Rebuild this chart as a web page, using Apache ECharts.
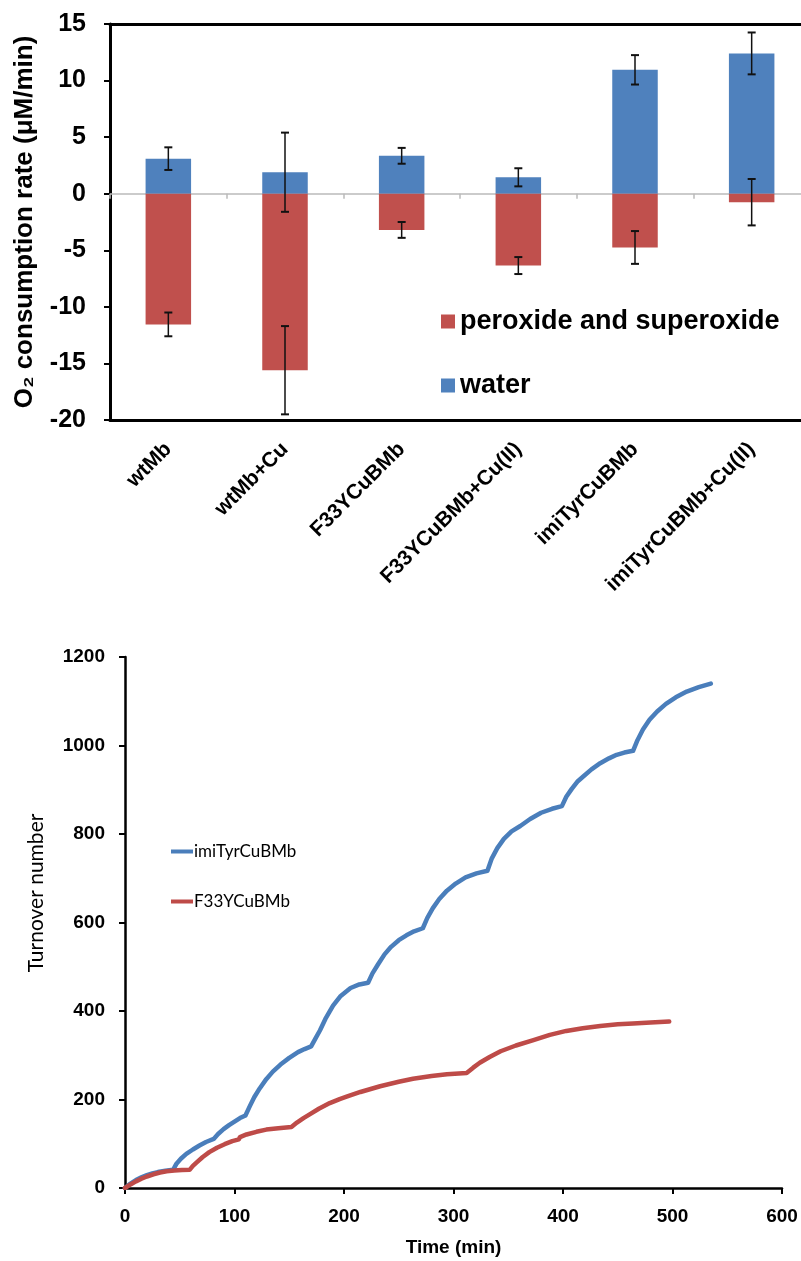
<!DOCTYPE html>
<html>
<head>
<meta charset="utf-8">
<script src="https://cdn.jsdelivr.net/npm/echarts@6/dist/echarts.min.js"></script>
<style>
html,body{margin:0;padding:0;background:#fff;}
#chart{width:801px;height:1261px;}
</style>
</head>
<body>
<div id="chart"></div>
<script>
// ---- Data: top chart ----
const categories = ['wtMb', 'wtMb+Cu', 'F33YCuBMb', 'F33YCuBMb+Cu(II)', 'imiTyrCuBMb', 'imiTyrCuBMb+Cu(II)'];
const waterRate = [3.1, 1.9, 3.35, 1.45, 10.95, 12.4];
const waterErr = [1.0, 3.5, 0.7, 0.8, 1.3, 1.85];
const peroxideRate = [-11.55, -15.6, -3.2, -6.35, -4.75, -0.75];
const peroxideErr = [1.05, 3.9, 0.7, 0.75, 1.45, 2.05];
const topYTicks = [-20, -15, -10, -5, 0, 5, 10, 15];

// ---- Data: bottom chart (time in min, turnover number) ----
const imiTyrCuBMb = [
  [0,0],[5,10],[10,18],[15,24],[20,29],[25,33],[30,36],[37,39],[44,41],
  [47,55],[51,66],[56,77],[62,87],[68,96],[74,104],[81,111],
  [85,122],[90,133],[95,142],[100,150],[105,158],[110,164],
  [114,185],[118,205],[123,225],[129,246],[135,263],[142,279],[150,294],[158,307],[164,314],[170,320],
  [174,338],[178,356],[183,382],[190,412],[197,434],[206,452],[214,460],[222,464],
  [226,485],[231,505],[237,528],[243,545],[250,560],[257,571],[264,580],[272,587],
  [276,610],[281,632],[287,653],[294,672],[302,688],[311,702],[321,711],[331,717],
  [335,745],[340,768],[346,789],[353,806],[361,818],[370,834],[380,848],[390,857],[399,863],
  [403,884],[408,902],[413,918],[419,931],[426,946],[434,960],[442,971],[449,979],[456,984],[464,988],
  [468,1012],[473,1036],[479,1058],[486,1077],[494,1094],[503,1109],[513,1122],[524,1132],[535,1140]
];
const F33YCuBMb = [
  [0,0],[5,8],[10,15],[15,21],[20,26],[26,31],[32,35],[38,38],[45,39.5],[52,40.5],[59,41],
  [62,50],[66,59],[71,70],[77,81],[84,91],[91,99],[98,106],[104,110],
  [105,115],[111,121],[120,127],[129,132],[140,135],[152,138],
  [157,148],[163,158],[169,167],[177,179],[187,192],[196,201],[203,207],[215,217],[233,230],[250,240],[263,247],[280,253],[294,257],[312,260],
  [318,272],[324,283],[333,296],[343,309],[357,322],[373,334],[388,346],[403,355],[418,361],[434,366],[450,370],[464,372],[480,374],[497,376]
];

const BOLD = {fontFamily: 'Liberation Sans, Arial, sans-serif', fontWeight: 'bold', color: '#000'};
const BLUE = '#4F81BD', RED = '#C0504D';

const chart = echarts.init(document.getElementById('chart'), null, {renderer: 'canvas'});

function errRender(params, api) {
  const x = api.value(0), v = api.value(1), e = api.value(2);
  const hi = api.coord([x, v + e]);
  const lo = api.coord([x, v - e]);
  const cap = 4;
  return {type: 'group', children: [
    {type: 'line', shape: {x1: hi[0], y1: hi[1], x2: lo[0], y2: lo[1]}, style: {stroke: '#111', lineWidth: 1.5}},
    {type: 'line', shape: {x1: hi[0]-cap, y1: hi[1], x2: hi[0]+cap, y2: hi[1]}, style: {stroke:'#111', lineWidth: 2}},
    {type: 'line', shape: {x1: lo[0]-cap, y1: lo[1], x2: lo[0]+cap, y2: lo[1]}, style: {stroke:'#111', lineWidth: 2}}
  ]};
}

const option = {
  animation: false,
  backgroundColor: '#fff',
  grid: [
    {left: 110, top: 24, width: 700, height: 396, outerBoundsMode: 'none', containLabel: false},
    {left: 125, top: 657, width: 657, height: 531, outerBoundsMode: 'none', containLabel: false}
  ],
  legend: [
    {
      data: ['peroxide and superoxide', 'water'],
      orient: 'vertical', left: 436, top: 303,
      icon: 'rect', itemWidth: 14, itemHeight: 14, itemGap: 37,
      textStyle: Object.assign({fontSize: 27}, BOLD),
      selectedMode: false
    },
    {
      data: ['imiTyrCuBMb', 'F33YCuBMb'],
      orient: 'vertical', left: 166, top: 838,
      itemWidth: 22, itemHeight: 4, itemGap: 33,
      icon: 'rect',
      textStyle: {fontFamily: 'Lato, sans-serif', fontSize: 17, color: '#000', padding: [0,0,0,-4]},
      selectedMode: false
    }
  ],
  xAxis: [
    {
      type: 'category', gridIndex: 0, data: categories, position: 'bottom',
      axisLine: {onZero: false, lineStyle: {color: '#000', width: 3}},
      axisTick: {show: false},
      axisLabel: Object.assign({rotate: 45, fontSize: 21, margin: 26, interval: 0}, BOLD),
      splitLine: {show: false}
    },
    {
      type: 'category', gridIndex: 0, data: categories, position: 'bottom',
      axisLine: {onZero: true, lineStyle: {color: '#BBBBBB', width: 1.5}},
      axisTick: {show: true, interval: 0, length: 5, lineStyle: {color: '#BBBBBB', width: 1.5}},
      axisLabel: {show: false},
      splitLine: {show: false}
    },
    {
      type: 'value', gridIndex: 1, min: 0, max: 600, interval: 100,
      name: 'Time (min)', nameLocation: 'middle', nameGap: 50,
      nameTextStyle: Object.assign({fontSize: 19}, BOLD),
      axisLine: {onZero: false, lineStyle: {color: '#000', width: 2.5}},
      axisTick: {show: true, length: 6, lineStyle: {color: '#000', width: 2}},
      axisLabel: Object.assign({fontSize: 19, margin: 19, formatter: v => String(v)}, BOLD),
      splitLine: {show: false}
    },
    {
      type: 'category', gridIndex: 0, data: categories, position: 'top',
      axisLine: {onZero: false, lineStyle: {color: '#000', width: 3}},
      axisTick: {show: false}, axisLabel: {show: false}, splitLine: {show: false}
    }
  ],
  yAxis: [
    {
      type: 'value', gridIndex: 0, min: -20, max: 15, interval: 5,
      name: 'O\u2082 consumption rate (\u03BCM/min)', nameLocation: 'middle', nameGap: 72, nameRotate: 90,
      nameTextStyle: Object.assign({fontSize: 26}, BOLD),
      axisLine: {show: true, lineStyle: {color: '#000', width: 3}},
      axisTick: {show: true, length: 6, lineStyle: {color: '#000', width: 2}},
      axisLabel: Object.assign({fontSize: 25, margin: 24, customValues: topYTicks}, BOLD),
      splitLine: {show: false}
    },
    {
      type: 'value', gridIndex: 1, min: 0, max: 1200, interval: 200,
      axisLine: {show: true, lineStyle: {color: '#000', width: 2.5}},
      axisTick: {show: true, length: 6, lineStyle: {color: '#000', width: 2}},
      axisLabel: Object.assign({fontSize: 19, margin: 20, formatter: v => String(v)}, BOLD),
      splitLine: {show: false}
    }
  ],
  graphic: [
    {type: 'text', x: 36, y: 893, rotation: Math.PI / 2,
     style: {text: 'Turnover number', fontFamily: 'Lato, sans-serif', fontSize: 21, fill: '#000', textAlign: 'center', textVerticalAlign: 'middle'}}
  ],
  series: [
    {name: 'water', type: 'bar', xAxisIndex: 0, yAxisIndex: 0, data: waterRate, barWidth: '39%', barGap: '-100%', itemStyle: {color: BLUE}},
    {name: 'peroxide and superoxide', type: 'bar', xAxisIndex: 0, yAxisIndex: 0, data: peroxideRate, barWidth: '39%', barGap: '-100%', itemStyle: {color: RED}},
    {type: 'custom', xAxisIndex: 0, yAxisIndex: 0, renderItem: errRender, z: 5,
     data: waterRate.map((v, i) => [i, v, waterErr[i]])},
    {type: 'custom', xAxisIndex: 0, yAxisIndex: 0, renderItem: errRender, z: 5,
     data: peroxideRate.map((v, i) => [i, v, peroxideErr[i]])},
    {name: 'imiTyrCuBMb', type: 'line', xAxisIndex: 2, yAxisIndex: 1, data: imiTyrCuBMb, showSymbol: false, symbol: 'none',
     lineStyle: {color: '#4A7EBB', width: 4.5, cap: 'round', join: 'round'}, itemStyle: {color: '#4A7EBB'}},
    {name: 'F33YCuBMb', type: 'line', xAxisIndex: 2, yAxisIndex: 1, data: F33YCuBMb, showSymbol: false, symbol: 'none',
     lineStyle: {color: '#BE4B48', width: 4.5, cap: 'round', join: 'round'}, itemStyle: {color: '#BE4B48'}}
  ]
};
chart.setOption(option);
</script>
</body>
</html>
